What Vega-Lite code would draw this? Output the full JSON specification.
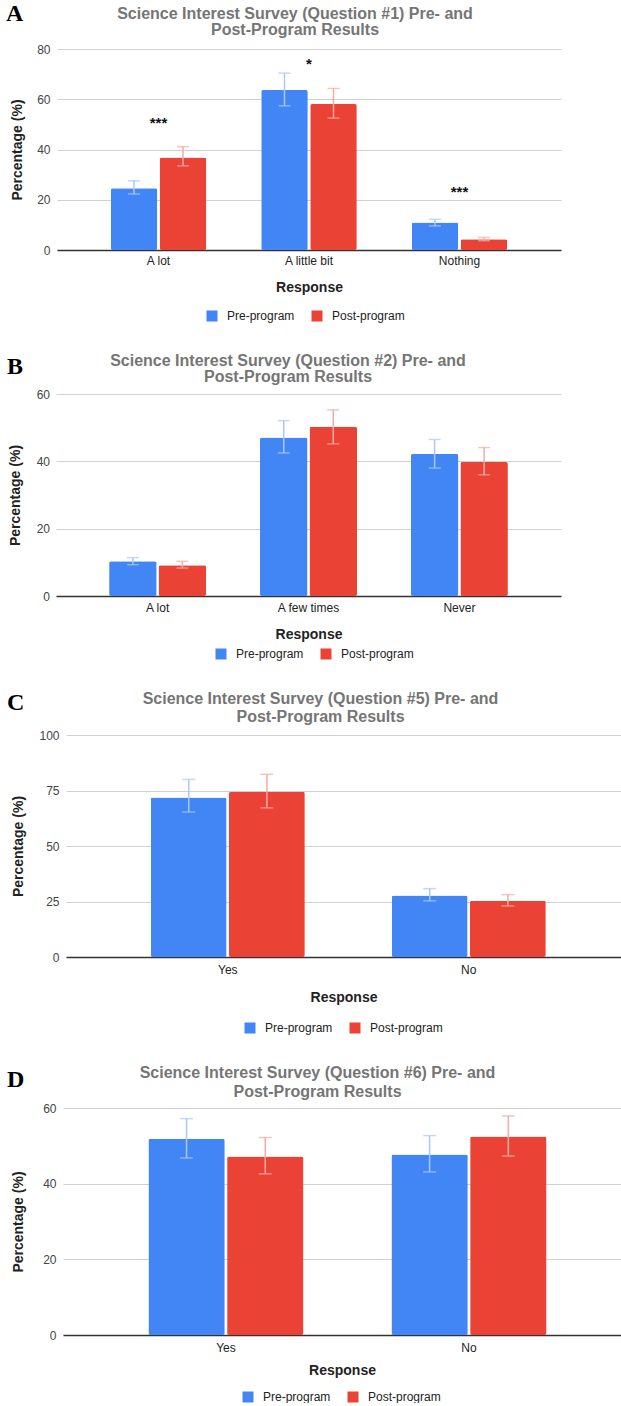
{
  "$schema": "https://vega.github.io/schema/vega-lite/v6.json",
  "background": "white",
  "padding": {"left": 6, "top": 2, "right": 0, "bottom": 0},
  "spacing": 31,
  "resolve": {"scale": {"x": "independent", "y": "independent", "xOffset": "independent", "color": "independent", "stroke": "independent", "fill": "independent"}, "legend": {"color": "independent"}},
  "vconcat": [
    {
      "title": {"text": "A", "anchor": "start", "frame": "bounds", "font": "Liberation Serif", "fontSize": 24, "fontWeight": "bold", "color": "#000000", "offset": -20, "dx": 0},
      "spacing": 0,
      "hconcat": [
        {"width": 4, "height": 1, "view": {"fill": "#ffffff", "stroke": null}, "data": {"values": [{"s": 0}]}, "mark": {"type": "rect", "opacity": 0}, "encoding": {}},
        {
          "width": 504,
          "height": 201,
          "title": {"text": ["Science Interest Survey (Question #1) Pre- and", "Post-Program Results"], "offset": 5, "dx": -14, "lineHeight": 16},
          "data": {"values": [
            {"Response": "A lot", "Group": "Pre-program", "value": 24.6, "lo": 22.3, "hi": 27.5},
            {"Response": "A lot", "Group": "Post-program", "value": 36.8, "lo": 33.5, "hi": 41.1},
            {"Response": "A little bit", "Group": "Pre-program", "value": 63.7, "lo": 57.4, "hi": 70.4},
            {"Response": "A little bit", "Group": "Post-program", "value": 58.1, "lo": 52.5, "hi": 64.3},
            {"Response": "Nothing", "Group": "Pre-program", "value": 10.9, "lo": 9.6, "hi": 12.2},
            {"Response": "Nothing", "Group": "Post-program", "value": 4.3, "lo": 3.7, "hi": 5.0}
          ]},
          "encoding": {
            "x": {"field": "Response", "type": "nominal", "sort": ["A lot", "A little bit", "Nothing"], "title": "Response",
                  "scale": {"paddingInner": 0.365, "paddingOuter": 0.357},
                  "axis": {"labelPadding": 5, "titlePadding": 14.5}}
          },
          "layer": [
            {
              "mark": {"type": "bar", "cornerRadius": 2},
              "encoding": {
                "xOffset": {"field": "Group", "type": "nominal", "sort": ["Pre-program", "Post-program"], "scale": {"paddingInner": 0.05}},
                "y": {"field": "value", "type": "quantitative", "title": "Percentage (%)", "scale": {"domain": [0, 80]},
                      "axis": {"values": [0, 20, 40, 60, 80], "titlePadding": 12.5, "labelPadding": 7}},
                "color": {"field": "Group", "type": "nominal", "sort": ["Pre-program", "Post-program"],
                          "scale": {"domain": ["Pre-program", "Post-program"], "range": ["#4285F4", "#EA4335"]},
                          "legend": {"orient": "none", "legendX": 200, "legendY": 261, "direction": "horizontal", "title": null}}
              }
            },
            {
              "mark": {"type": "rule", "strokeWidth": 1.5},
              "encoding": {
                "xOffset": {"field": "Group", "type": "nominal", "sort": ["Pre-program", "Post-program"]},
                "y": {"field": "lo", "type": "quantitative", "title": "Percentage (%)", "scale": {"domain": [0, 80]}},
                "y2": {"field": "hi"},
                "stroke": {"field": "Group", "type": "nominal", "scale": {"domain": ["Pre-program", "Post-program"], "range": ["#A9C8FB", "#F5ABA4"]}, "legend": null}
              }
            },
            {
              "mark": {"type": "tick", "size": 12, "thickness": 1.5},
              "encoding": {
                "xOffset": {"field": "Group", "type": "nominal", "sort": ["Pre-program", "Post-program"]},
                "y": {"field": "lo", "type": "quantitative", "title": "Percentage (%)", "scale": {"domain": [0, 80]}},
                "fill": {"field": "Group", "type": "nominal", "scale": {"domain": ["Pre-program", "Post-program"], "range": ["#A9C8FB", "#F5ABA4"]}, "legend": null}
              }
            },
            {
              "mark": {"type": "tick", "size": 12, "thickness": 1.5},
              "encoding": {
                "xOffset": {"field": "Group", "type": "nominal", "sort": ["Pre-program", "Post-program"]},
                "y": {"field": "hi", "type": "quantitative", "title": "Percentage (%)", "scale": {"domain": [0, 80]}},
                "fill": {"field": "Group", "type": "nominal", "scale": {"domain": ["Pre-program", "Post-program"], "range": ["#A9C8FB", "#F5ABA4"]}, "legend": null}
              }
            },
            {
              "data": {"values": [
                {"Response": "A lot", "sig": "***", "sigY": 50.5},
                {"Response": "A little bit", "sig": "*", "sigY": 74.0},
                {"Response": "Nothing", "sig": "***", "sigY": 23.1}
              ]},
              "mark": {"type": "text", "fontSize": 15, "fontWeight": "bold", "color": "#111111"},
              "encoding": {
                "y": {"field": "sigY", "type": "quantitative", "title": "Percentage (%)", "scale": {"domain": [0, 80]}},
                "text": {"field": "sig"}
              }
            }
          ]
        }
      ]
    },
    {
      "title": {"text": "B", "anchor": "start", "frame": "bounds", "font": "Liberation Serif", "fontSize": 24, "fontWeight": "bold", "color": "#000000", "offset": -26, "dx": 1},
      "spacing": 0,
      "hconcat": [
        {"width": 2, "height": 1, "view": {"fill": "#ffffff", "stroke": null}, "data": {"values": [{"s": 0}]}, "mark": {"type": "rect", "opacity": 0}, "encoding": {}},
        {
          "width": 505,
          "height": 202,
          "title": {"text": ["Science Interest Survey (Question #2) Pre- and", "Post-Program Results"], "offset": 3, "dx": -20.5, "lineHeight": 16},
          "data": {"values": [
            {"Response": "A lot", "Group": "Pre-program", "value": 10.3, "lo": 9.3, "hi": 11.4},
            {"Response": "A lot", "Group": "Post-program", "value": 9.1, "lo": 8.3, "hi": 10.3},
            {"Response": "A few times", "Group": "Pre-program", "value": 47.1, "lo": 42.5, "hi": 52.1},
            {"Response": "A few times", "Group": "Post-program", "value": 50.3, "lo": 45.2, "hi": 55.3},
            {"Response": "Never", "Group": "Pre-program", "value": 42.2, "lo": 38.0, "hi": 46.5},
            {"Response": "Never", "Group": "Post-program", "value": 39.8, "lo": 36.0, "hi": 44.1}
          ]},
          "encoding": {
            "x": {"field": "Response", "type": "nominal", "sort": ["A lot", "A few times", "Never"], "title": "Response",
                  "scale": {"paddingInner": 0.357, "paddingOuter": 0.352},
                  "axis": {"labelPadding": 6, "titlePadding": 14.5}}
          },
          "layer": [
            {
              "mark": {"type": "bar", "cornerRadius": 2},
              "encoding": {
                "xOffset": {"field": "Group", "type": "nominal", "sort": ["Pre-program", "Post-program"], "scale": {"paddingInner": 0.04}},
                "y": {"field": "value", "type": "quantitative", "title": "Percentage (%)", "scale": {"domain": [0, 60]},
                      "axis": {"values": [0, 20, 40, 60], "titlePadding": 14, "labelPadding": 6.5}},
                "color": {"field": "Group", "type": "nominal", "sort": ["Pre-program", "Post-program"],
                          "scale": {"domain": ["Pre-program", "Post-program"], "range": ["#4285F4", "#EA4335"]},
                          "legend": {"orient": "none", "legendX": 209, "legendY": 254, "direction": "horizontal", "title": null}}
              }
            },
            {
              "mark": {"type": "rule", "strokeWidth": 1.5},
              "encoding": {
                "xOffset": {"field": "Group", "type": "nominal", "sort": ["Pre-program", "Post-program"]},
                "y": {"field": "lo", "type": "quantitative", "title": "Percentage (%)", "scale": {"domain": [0, 60]}},
                "y2": {"field": "hi"},
                "stroke": {"field": "Group", "type": "nominal", "scale": {"domain": ["Pre-program", "Post-program"], "range": ["#A9C8FB", "#F5ABA4"]}, "legend": null}
              }
            },
            {
              "mark": {"type": "tick", "size": 12, "thickness": 1.5},
              "encoding": {
                "xOffset": {"field": "Group", "type": "nominal", "sort": ["Pre-program", "Post-program"]},
                "y": {"field": "lo", "type": "quantitative", "title": "Percentage (%)", "scale": {"domain": [0, 60]}},
                "fill": {"field": "Group", "type": "nominal", "scale": {"domain": ["Pre-program", "Post-program"], "range": ["#A9C8FB", "#F5ABA4"]}, "legend": null}
              }
            },
            {
              "mark": {"type": "tick", "size": 12, "thickness": 1.5},
              "encoding": {
                "xOffset": {"field": "Group", "type": "nominal", "sort": ["Pre-program", "Post-program"]},
                "y": {"field": "hi", "type": "quantitative", "title": "Percentage (%)", "scale": {"domain": [0, 60]}},
                "fill": {"field": "Group", "type": "nominal", "scale": {"domain": ["Pre-program", "Post-program"], "range": ["#A9C8FB", "#F5ABA4"]}, "legend": null}
              }
            }
          ]
        }
      ]
    },
    {
      "title": {"text": "C", "anchor": "start", "frame": "bounds", "font": "Liberation Serif", "fontSize": 24, "fontWeight": "bold", "color": "#000000", "offset": -24, "dx": 1},
      "spacing": 0,
      "hconcat": [
        {"width": 5, "height": 1, "view": {"fill": "#ffffff", "stroke": null}, "data": {"values": [{"s": 0}]}, "mark": {"type": "rect", "opacity": 0}, "encoding": {}},
        {
          "width": 555,
          "height": 222,
          "title": {"text": ["Science Interest Survey (Question #5) Pre- and", "Post-Program Results"], "offset": 4, "dx": -23, "lineHeight": 18},
          "data": {"values": [
            {"Response": "Yes", "Group": "Pre-program", "value": 71.9, "lo": 65.3, "hi": 80.0},
            {"Response": "Yes", "Group": "Post-program", "value": 74.4, "lo": 67.2, "hi": 82.3},
            {"Response": "No", "Group": "Pre-program", "value": 27.7, "lo": 25.3, "hi": 30.8},
            {"Response": "No", "Group": "Post-program", "value": 25.3, "lo": 23.0, "hi": 28.1}
          ]},
          "encoding": {
            "x": {"field": "Response", "type": "nominal", "sort": ["Yes", "No"], "title": "Response",
                  "scale": {"paddingInner": 0.361, "paddingOuter": 0.332, "align": 0.53},
                  "axis": {"labelPadding": 7, "titlePadding": 15.5}}
          },
          "layer": [
            {
              "mark": {"type": "bar", "cornerRadius": 2},
              "encoding": {
                "xOffset": {"field": "Group", "type": "nominal", "sort": ["Pre-program", "Post-program"], "scale": {"paddingInner": 0.03}},
                "y": {"field": "value", "type": "quantitative", "title": "Percentage (%)", "scale": {"domain": [0, 100]},
                      "axis": {"values": [0, 25, 50, 75, 100], "titlePadding": 13, "labelPadding": 7}},
                "color": {"field": "Group", "type": "nominal", "sort": ["Pre-program", "Post-program"],
                          "scale": {"domain": ["Pre-program", "Post-program"], "range": ["#4285F4", "#EA4335"]},
                          "legend": {"orient": "none", "legendX": 238, "legendY": 287, "direction": "horizontal", "title": null}}
              }
            },
            {
              "mark": {"type": "rule", "strokeWidth": 1.5},
              "encoding": {
                "xOffset": {"field": "Group", "type": "nominal", "sort": ["Pre-program", "Post-program"]},
                "y": {"field": "lo", "type": "quantitative", "title": "Percentage (%)", "scale": {"domain": [0, 100]}},
                "y2": {"field": "hi"},
                "stroke": {"field": "Group", "type": "nominal", "scale": {"domain": ["Pre-program", "Post-program"], "range": ["#A9C8FB", "#F5ABA4"]}, "legend": null}
              }
            },
            {
              "mark": {"type": "tick", "size": 13, "thickness": 1.5},
              "encoding": {
                "xOffset": {"field": "Group", "type": "nominal", "sort": ["Pre-program", "Post-program"]},
                "y": {"field": "lo", "type": "quantitative", "title": "Percentage (%)", "scale": {"domain": [0, 100]}},
                "fill": {"field": "Group", "type": "nominal", "scale": {"domain": ["Pre-program", "Post-program"], "range": ["#A9C8FB", "#F5ABA4"]}, "legend": null}
              }
            },
            {
              "mark": {"type": "tick", "size": 13, "thickness": 1.5},
              "encoding": {
                "xOffset": {"field": "Group", "type": "nominal", "sort": ["Pre-program", "Post-program"]},
                "y": {"field": "hi", "type": "quantitative", "title": "Percentage (%)", "scale": {"domain": [0, 100]}},
                "fill": {"field": "Group", "type": "nominal", "scale": {"domain": ["Pre-program", "Post-program"], "range": ["#A9C8FB", "#F5ABA4"]}, "legend": null}
              }
            }
          ]
        }
      ]
    },
    {
      "title": {"text": "D", "anchor": "start", "frame": "bounds", "font": "Liberation Serif", "fontSize": 24, "fontWeight": "bold", "color": "#000000", "offset": -27, "dx": 1},
      "spacing": 0,
      "hconcat": [
        {"width": 5, "height": 1, "view": {"fill": "#ffffff", "stroke": null}, "data": {"values": [{"s": 0}]}, "mark": {"type": "rect", "opacity": 0}, "encoding": {}},
        {
          "width": 558,
          "height": 227,
          "title": {"text": ["Science Interest Survey (Question #6) Pre- and", "Post-Program Results"], "offset": 2, "dx": -24.5, "lineHeight": 19},
          "data": {"values": [
            {"Response": "Yes", "Group": "Pre-program", "value": 51.9, "lo": 46.8, "hi": 57.2},
            {"Response": "Yes", "Group": "Post-program", "value": 47.2, "lo": 42.6, "hi": 52.2},
            {"Response": "No", "Group": "Pre-program", "value": 47.7, "lo": 43.1, "hi": 52.7},
            {"Response": "No", "Group": "Post-program", "value": 52.5, "lo": 47.3, "hi": 57.9}
          ]},
          "encoding": {
            "x": {"field": "Response", "type": "nominal", "sort": ["Yes", "No"], "title": "Response",
                  "scale": {"paddingInner": 0.362, "paddingOuter": 0.329, "align": 0.534},
                  "axis": {"labelPadding": 7, "titlePadding": 10.5}}
          },
          "layer": [
            {
              "mark": {"type": "bar", "cornerRadius": 2},
              "encoding": {
                "xOffset": {"field": "Group", "type": "nominal", "sort": ["Pre-program", "Post-program"], "scale": {"paddingInner": 0.03}},
                "y": {"field": "value", "type": "quantitative", "title": "Percentage (%)", "scale": {"domain": [0, 60]},
                      "axis": {"values": [0, 20, 40, 60], "titlePadding": 17, "labelPadding": 7}},
                "color": {"field": "Group", "type": "nominal", "sort": ["Pre-program", "Post-program"],
                          "scale": {"domain": ["Pre-program", "Post-program"], "range": ["#4285F4", "#EA4335"]},
                          "legend": {"orient": "none", "legendX": 236, "legendY": 283, "direction": "horizontal", "title": null}}
              }
            },
            {
              "mark": {"type": "rule", "strokeWidth": 1.5},
              "encoding": {
                "xOffset": {"field": "Group", "type": "nominal", "sort": ["Pre-program", "Post-program"]},
                "y": {"field": "lo", "type": "quantitative", "title": "Percentage (%)", "scale": {"domain": [0, 60]}},
                "y2": {"field": "hi"},
                "stroke": {"field": "Group", "type": "nominal", "scale": {"domain": ["Pre-program", "Post-program"], "range": ["#A9C8FB", "#F5ABA4"]}, "legend": null}
              }
            },
            {
              "mark": {"type": "tick", "size": 13, "thickness": 1.5},
              "encoding": {
                "xOffset": {"field": "Group", "type": "nominal", "sort": ["Pre-program", "Post-program"]},
                "y": {"field": "lo", "type": "quantitative", "title": "Percentage (%)", "scale": {"domain": [0, 60]}},
                "fill": {"field": "Group", "type": "nominal", "scale": {"domain": ["Pre-program", "Post-program"], "range": ["#A9C8FB", "#F5ABA4"]}, "legend": null}
              }
            },
            {
              "mark": {"type": "tick", "size": 13, "thickness": 1.5},
              "encoding": {
                "xOffset": {"field": "Group", "type": "nominal", "sort": ["Pre-program", "Post-program"]},
                "y": {"field": "hi", "type": "quantitative", "title": "Percentage (%)", "scale": {"domain": [0, 60]}},
                "fill": {"field": "Group", "type": "nominal", "scale": {"domain": ["Pre-program", "Post-program"], "range": ["#A9C8FB", "#F5ABA4"]}, "legend": null}
              }
            }
          ]
        }
      ]
    }
  ],
  "config": {
    "font": "Liberation Sans",
    "view": {"stroke": null},
    "title": {"font": "Liberation Sans", "fontSize": 16, "fontWeight": "bold", "color": "#757575", "lineHeight": 16, "anchor": "middle", "frame": "group"},
    "axis": {"labelFont": "Liberation Sans", "labelFontSize": 12, "titleFont": "Liberation Sans", "titleFontSize": 14, "titleFontWeight": "bold", "titleColor": "#222222"},
    "axisY": {"labelColor": "#444444", "domain": false, "ticks": false, "gridColor": "#d0d0d0", "gridWidth": 1},
    "axisX": {"labelColor": "#222222", "labelAngle": 0, "ticks": false, "grid": false, "domainColor": "#333333", "domainWidth": 1.3},
    "legend": {"symbolType": "square", "symbolSize": 121, "symbolStrokeWidth": 0, "labelFont": "Liberation Sans", "labelFontSize": 12, "labelColor": "#222222", "columnPadding": 16, "labelOffset": 9, "padding": 0}
  }
}
